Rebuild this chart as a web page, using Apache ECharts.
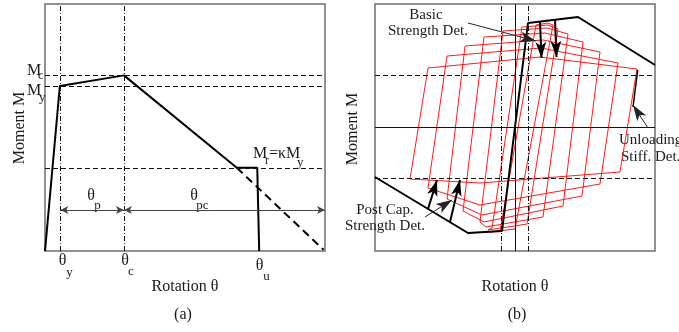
<!DOCTYPE html>
<html>
<head>
<meta charset="utf-8">
<script src="https://cdn.jsdelivr.net/npm/echarts@6/dist/echarts.min.js"></script>
<style>
  html, body { margin: 0; padding: 0; background: #fff; }
  #chart { width: 679px; height: 332px; }
</style>
</head>
<body>
<div id="chart"></div>
<script>
// ---- panel (a): monotonic backbone ----
const thetaA = [0, 0.53, 2.82, 6.85, 7.58, 7.65];
const momentA = [0, 6.68, 7.11, 3.37, 3.37, 0];
const capExtTheta = [6.85, 9.95];
const capExtMoment = [3.37, 0.05];
const thetaRefs = [0.55, 2.82];        // theta_y, theta_c
const momentRefs = [7.11, 6.68, 3.37]; // Mc, My, Mr
const spanLevel = 1.66;                // height of theta_p / theta_pc arrows
const spanEnds = [0.55, 2.82, 10];

// ---- panel (b): cyclic response ----
const backboneB = [[-140, -50], [-47, -106], [-13, -104], [13, 104], [63, 110], [140, 62]];
const loopBL = [[-15, -104], [-23, -101], [-35, -95], [-52, -84], [-68, -72], [-87, -61], [-105, -52]];
const loopTL = [[21, 102], [7, 100], [-12, 96], [-31, 90], [-50, 81], [-68, 71], [-87, 59]];
const loopTP = [[33, 104], [33, 102], [32, 99], [30, 94], [28, 87], [26, 79], [25, 70]];
const loopTR = [[38, 102], [43, 98], [53, 93], [68, 85], [85, 75], [103, 64], [122, 58]];
const loopBR = [[0, -102], [12, -97], [28, -90], [48, -79], [67, -69], [85, -57], [105, -45]];
const loopBP = [[-25, -105], [-27, -103], [-29, -100], [-31, -95], [-33, -88], [-35, -78], [-35, -56]];
const yieldRot = 13.3;
const yieldMom = 51.3;
const unloadSeg = [[122.7, 57], [118, 20]];
const basicArrows = [[[25, 105], [26.5, 69]], [[40, 107], [41.5, 70]]];
const postCapArrows = [[[-87, -82], [-78, -53]], [[-65, -95], [-55, -53]]];
const pointers = [[[-47, 104], [21, 86]], [[133, -1], [118, 22]], [[-90, -90], [-63, -73]]];

const serif = '"Liberation Serif", "DejaVu Serif", serif';
const chart = echarts.init(document.getElementById('chart'));

const hidden = { axisLine: { show: false }, axisTick: { show: false }, axisLabel: { show: false }, splitLine: { show: false } };
const pairs = (xs, ys) => xs.map((x, i) => [x, ys[i]]);
const seg = (a, b) => [{ coord: a }, { coord: b }];

const loopSeries = loopBL.map((_, i) => ({
  type: 'line', xAxisIndex: 1, yAxisIndex: 1, symbol: 'none', silent: true,
  lineStyle: { color: '#ff1a1a', width: 1 },
  data: [loopBL[i], loopTL[i], loopTP[i], loopTR[i], loopBR[i], loopBP[i], loopBL[i]]
}));

chart.setOption({
  animation: false,
  grid: [
    { left: 45, top: 4, width: 280, height: 247, show: true, borderColor: '#6e6e6e', borderWidth: 1.5 },
    { left: 375, top: 4, width: 280, height: 247, show: true, borderColor: '#6e6e6e', borderWidth: 1.5 }
  ],
  xAxis: [
    Object.assign({ type: 'value', gridIndex: 0, min: 0, max: 10 }, hidden),
    Object.assign({ type: 'value', gridIndex: 1, min: -140, max: 140 }, hidden)
  ],
  yAxis: [
    Object.assign({ type: 'value', gridIndex: 0, min: 0, max: 10 }, hidden),
    Object.assign({ type: 'value', gridIndex: 1, min: -124, max: 123 }, hidden)
  ],
  series: [
    {
      type: 'line', xAxisIndex: 0, yAxisIndex: 0, symbol: 'none', silent: true,
      lineStyle: { color: '#000', width: 2 },
      data: pairs(thetaA, momentA),
      markLine: {
        silent: true, symbol: 'none', label: { show: false }, emphasis: { disabled: true },
        lineStyle: { color: '#111', width: 1, type: [5, 3] },
        data: thetaRefs.map(v => ({ xAxis: v, lineStyle: { type: [5, 2, 1, 2] } }))
          .concat(momentRefs.map(v => ({ yAxis: v })))
      }
    },
    {
      type: 'line', xAxisIndex: 0, yAxisIndex: 0, symbol: 'none', silent: true,
      lineStyle: { color: '#000', width: 2, type: [8, 5] },
      data: pairs(capExtTheta, capExtMoment),
      markLine: {
        silent: true, symbol: ['arrow', 'arrow'], symbolSize: [6, 8], label: { show: false },
        emphasis: { disabled: true },
        lineStyle: { color: '#444', width: 1, type: 'solid' },
        data: [seg([spanEnds[0], spanLevel], [spanEnds[1], spanLevel]),
               seg([spanEnds[1], spanLevel], [spanEnds[2], spanLevel])]
      }
    },
    {
      type: 'line', xAxisIndex: 1, yAxisIndex: 1, symbol: 'none', silent: true, data: [],
      markLine: {
        silent: true, symbol: 'none', label: { show: false }, emphasis: { disabled: true },
        lineStyle: { color: '#111', width: 1, type: [5, 3] },
        data: [
          { xAxis: 0, lineStyle: { type: 'solid' } },
          { yAxis: 0, lineStyle: { type: 'solid' } },
          { xAxis: -yieldRot, lineStyle: { type: [5, 2, 1, 2] } },
          { xAxis: yieldRot, lineStyle: { type: [5, 2, 1, 2] } },
          { yAxis: yieldMom }, { yAxis: -yieldMom }
        ]
      }
    }
  ].concat(loopSeries).concat([
    {
      type: 'line', xAxisIndex: 1, yAxisIndex: 1, symbol: 'none', silent: true,
      lineStyle: { color: '#000', width: 2 }, data: backboneB
    },
    {
      type: 'line', xAxisIndex: 1, yAxisIndex: 1, symbol: 'none', silent: true,
      lineStyle: { color: '#000', width: 1.5 }, data: unloadSeg,
      markLine: {
        silent: true, symbol: ['none', 'arrow'], label: { show: false }, emphasis: { disabled: true },
        data: basicArrows.concat(postCapArrows).map(a => Object.assign(seg(a[0], a[1]), {}))
          .map(d => [Object.assign({}, d[0], { lineStyle: { color: '#000', width: 2, type: 'solid' }, symbolSize: 9 }), d[1]])
          .concat(pointers.map(a => [{ coord: a[0], lineStyle: { color: '#222', width: 1, type: 'solid' }, symbolSize: 7 }, { coord: a[1] }]))
      }
    }
  ])
});

function txt(str, x, y, size, align, extra) {
  return Object.assign({
    type: 'text', x: x, y: y, silent: true,
    style: { text: str, font: size + 'px ' + serif, fill: '#1a1a1a', textAlign: align || 'center', textVerticalAlign: 'middle' }
  }, extra || {});
}
const up = { rotation: Math.PI / 2 };

chart.setOption({
  graphic: [
    // panel (a)
    txt('M', 27, 71, 16, 'left'), txt('c', 38, 76, 12, 'left'),
    txt('M', 27, 91, 16, 'left'), txt('y', 39, 98, 13, 'left'),
    txt('θ', 62.5, 261, 16), txt('y', 69.5, 273, 13),
    txt('θ', 125, 261, 16), txt('c', 131, 271.5, 13),
    txt('θ', 259.5, 266, 16), txt('u', 266.5, 276.5, 13),
    txt('θ', 91, 196, 16), txt('p', 97.5, 206, 13),
    txt('θ', 194, 196, 16), txt('pc', 202.5, 206, 13),
    txt('M', 253, 153.5, 16, 'left'), txt('r', 265, 161, 12, 'left'),
    txt('=κM', 269, 153.5, 16, 'left'), txt('y', 297, 162.5, 13, 'left'),
    txt('Moment M', 20, 128, 16, 'center', up),
    txt('Rotation θ', 185, 287, 16),
    txt('(a)', 183, 315, 16),
    // panel (b)
    txt('Moment M', 353, 129, 16, 'center', up),
    txt('Rotation θ', 515, 287, 16),
    txt('(b)', 517, 315, 16),
    txt('Basic', 426, 15, 15),
    txt('Strength Det.', 428, 31, 15),
    txt('Unloading', 619, 140, 15, 'left'),
    txt('Stiff. Det.', 621, 157, 15, 'left'),
    txt('Post Cap.', 385, 210, 15),
    txt('Strength Det.', 385, 226, 15)
  ]
});
</script>
</body>
</html>
